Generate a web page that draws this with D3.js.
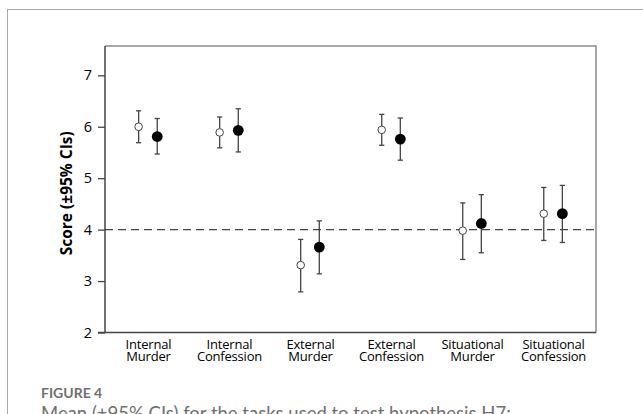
<!DOCTYPE html>
<html><head><meta charset="utf-8">
<script src="https://cdn.jsdelivr.net/npm/d3@7"></script>
<style>
html,body{margin:0;padding:0;background:#fff;}
svg{display:block;}
</style></head>
<body>
<svg id="chart" width="643" height="414"></svg>
<script>
const categories = [["Internal","Murder"],["Internal","Confession"],["External","Murder"],["External","Confession"],["Situational","Murder"],["Situational","Confession"]];
const openMean  = [6.00, 5.89, 3.31, 5.94, 3.98, 4.31];
const openLow   = [5.69, 5.59, 2.79, 5.64, 3.42, 3.79];
const openHigh  = [6.31, 6.19, 3.81, 6.24, 4.52, 4.82];
const filledMean = [5.81, 5.93, 3.66, 5.76, 4.12, 4.31];
const filledLow  = [5.47, 5.51, 3.14, 5.35, 3.55, 3.75];
const filledHigh = [6.16, 6.35, 4.17, 6.17, 4.68, 4.86];
const yTicks = [2,3,4,5,6,7];
const refValue = 4;
const yLabel = "Score (±95% CIs)";
const figLabel = "FIGURE 4";
const caption = "Mean (±95% CIs) for the tasks used to test hypothesis H7:";

(function(){
const svg = d3.select("#chart");
const pLeft = 105, pRight = 596, pTop = 46, pBottom = 332.5;
const font = "'Open Sans', sans-serif";

// outer frame
svg.append("rect").attr("x",7.5).attr("y",9.5).attr("width",700).attr("height",500)
  .attr("fill","none").attr("stroke","#a9a9a9").attr("stroke-width",1);

const x = d3.scalePoint().domain(d3.range(categories.length)).range([pLeft,pRight]).padding(0.53);
const y = d3.scaleLinear().domain([2, 7.57]).range([pBottom, pTop]);

// plot box top/right
svg.append("path").attr("d",`M${pLeft},${pTop}H${pRight}V${pBottom}`)
  .attr("fill","none").attr("stroke","#8a8a8a").attr("stroke-width",1.5);

// reference line
svg.append("line").attr("x1",pLeft).attr("x2",pRight).attr("y1",y(refValue)).attr("y2",y(refValue))
  .attr("stroke","#444").attr("stroke-width",1.4).attr("stroke-dasharray","8,5");

// y axis
const yAxis = svg.append("g").attr("transform",`translate(${pLeft},0)`)
  .call(d3.axisLeft(y).tickValues(yTicks).tickSize(7).tickPadding(6).tickFormat(d3.format("d")));
yAxis.select(".domain").attr("stroke","#444").attr("stroke-width",1.5).attr("d",`M0,${pTop}V${pBottom}`);
yAxis.selectAll(".tick line").attr("stroke","#444").attr("stroke-width",1.3);
yAxis.selectAll(".tick text").attr("font-family",font).attr("font-size",14.5).attr("fill","#000");

// x axis
const xAxis = svg.append("g").attr("transform",`translate(0,${pBottom})`)
  .call(d3.axisBottom(x).tickSize(0).tickFormat(""));
xAxis.select(".domain").attr("stroke","#444").attr("stroke-width",1.5).attr("d",`M${pLeft-7},0H${pRight}`);
xAxis.selectAll(".tick").each(function(d){
  const t = d3.select(this).append("text").attr("font-family",font).attr("font-size",13)
    .attr("letter-spacing","-0.2").attr("fill","#000").attr("text-anchor","middle");
  t.append("tspan").attr("x",0).attr("y",16).text(categories[d][0]);
  t.append("tspan").attr("x",0).attr("y",28).text(categories[d][1]);
});

// y label
svg.append("text").attr("transform",`translate(72,${(pTop+pBottom)/2+4}) rotate(-90)`)
  .attr("text-anchor","middle").attr("font-family",font).attr("font-weight","bold")
  .attr("font-size",15.5).attr("fill","#000").text(yLabel);

const off = 9.3, cap = 2.6;
function drawSeries(mean, low, high, dx, filled){
  const g = svg.append("g");
  const items = g.selectAll("g").data(d3.range(categories.length)).join("g")
    .attr("transform", i => `translate(${x(i)+dx},0)`);
  items.append("line").attr("y1", i=>y(low[i])).attr("y2", i=>y(high[i]))
    .attr("stroke","#444").attr("stroke-width",1.3);
  items.append("line").attr("x1",-cap).attr("x2",cap).attr("y1",i=>y(high[i])).attr("y2",i=>y(high[i]))
    .attr("stroke","#444").attr("stroke-width",1.3);
  items.append("line").attr("x1",-cap).attr("x2",cap).attr("y1",i=>y(low[i])).attr("y2",i=>y(low[i]))
    .attr("stroke","#444").attr("stroke-width",1.3);
  items.append("circle").attr("cy", i=>y(mean[i])).attr("r", filled?5.4:3.8)
    .attr("fill", filled?"#000":"#fff").attr("stroke", filled?"#000":"#444").attr("stroke-width", filled?0:1);
}
drawSeries(openMean, openLow, openHigh, -off, false);
drawSeries(filledMean, filledLow, filledHigh, off, true);

// figure caption
svg.append("text").attr("x",41).attr("y",398).attr("font-family","'Lato', sans-serif")
  .attr("font-size",14).attr("font-weight","bold").attr("fill","#707070").text(figLabel);
svg.append("text").attr("x",41).attr("y",420).attr("font-family","'Lato', sans-serif")
  .attr("font-size",18.5).attr("fill","#707070").text(caption);
})();
</script>
</body></html>
